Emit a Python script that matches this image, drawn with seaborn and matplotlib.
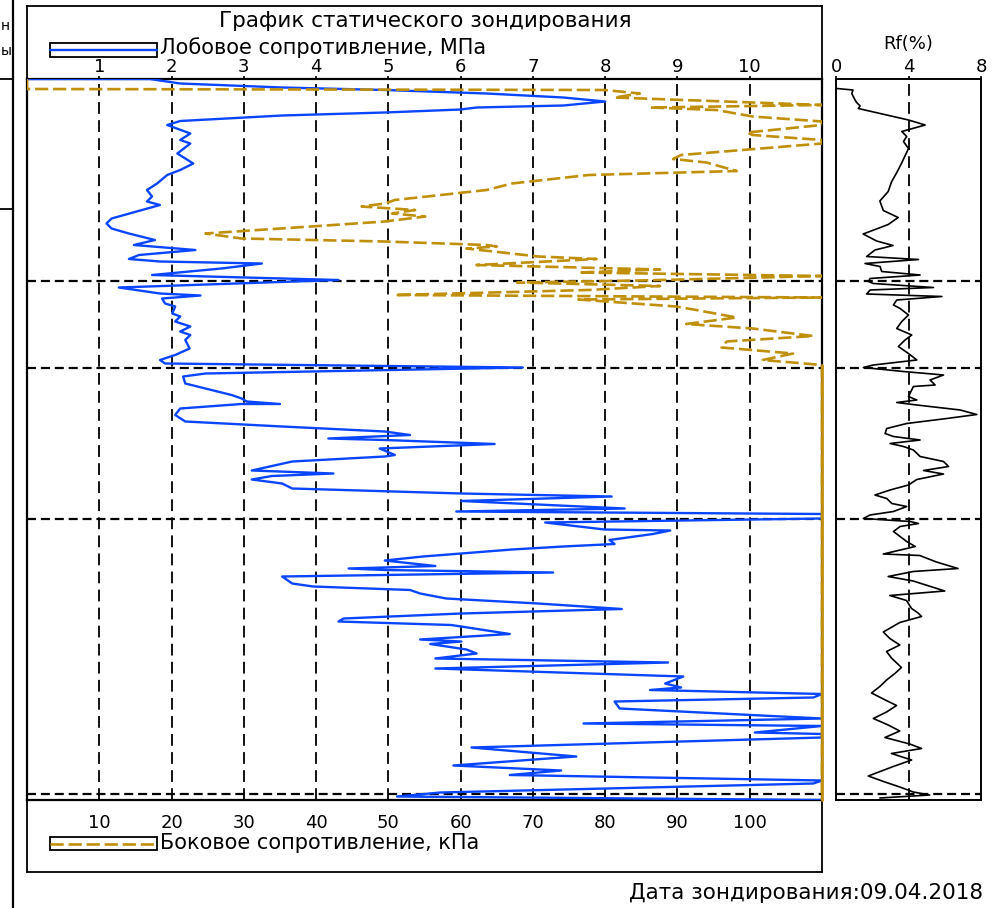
import matplotlib
matplotlib.use("Agg")
import matplotlib.pyplot as plt
from matplotlib.patches import Rectangle
from matplotlib.lines import Line2D
import pandas as pd
import seaborn as sns

# === Data ===
# cone (tip) resistance, MPa
qc_depth = [0.00, 0.00, 0.09, 0.17, 0.22, 0.29, 0.37, 0.45, 0.53, 0.57, 0.61, 0.67, 0.73, 0.84, 0.92,
            1.09, 1.22, 1.29, 1.49, 1.69, 1.82, 1.92, 2.09, 2.22, 2.35, 2.45, 2.52, 2.65, 2.79, 2.89,
            2.99, 3.09, 3.22, 3.32, 3.35, 3.42, 3.52, 3.60, 3.65, 3.69, 3.79, 3.92, 4.02, 4.17, 4.29,
            4.33, 4.39, 4.49, 4.55, 4.69, 4.75, 4.85, 4.95, 5.05, 5.12, 5.22, 5.39, 5.52, 5.62, 5.69,
            5.77, 5.89, 5.95, 6.09, 6.19, 6.32, 6.39, 6.45, 6.50, 6.50, 6.59, 6.72, 6.85, 6.95, 7.05,
            7.12, 7.19, 7.22, 7.30, 7.39, 7.52, 7.55, 7.65, 7.83, 7.89, 7.94, 8.01, 8.09, 8.19, 8.29,
            8.35, 8.44, 8.59, 8.65, 8.70, 8.79, 8.87, 9.01, 9.03, 9.10, 9.22, 9.30, 9.35, 9.41, 9.49,
            9.55, 9.63, 9.74, 9.79, 9.82, 9.87, 9.95, 10.09, 10.15, 10.22, 10.29, 10.39, 10.49, 10.60,
            10.69, 10.79, 10.85, 10.92, 11.10, 11.21, 11.25, 11.30, 11.41, 11.49, 11.59, 11.67, 11.79,
            11.95, 12.09, 12.17, 12.22, 12.30, 12.37, 12.45, 12.59, 12.79, 12.89, 12.94, 13.07, 13.10,
            13.17, 13.37, 13.55, 13.59, 13.73, 13.83, 13.92, 14.03, 14.09, 14.27, 14.35, 14.42]
qc_mpa = [0.00, 1.70, 2.12, 3.53, 4.95, 6.36, 7.42, 8.00, 7.42, 6.22, 6.00, 4.95, 3.53, 2.12, 1.94,
          2.26, 2.12, 2.26, 2.08, 2.30, 2.12, 1.94, 1.80, 1.66, 1.73, 1.66, 1.84, 1.52, 1.17, 1.10,
          1.17, 1.41, 1.77, 1.48, 1.73, 2.33, 1.55, 1.41, 1.84, 3.25, 2.69, 1.73, 4.31, 1.27, 1.84,
          2.40, 1.87, 1.91, 2.05, 2.01, 2.12, 2.05, 2.26, 2.12, 2.26, 2.19, 2.25, 2.05, 1.84, 1.91,
          6.86, 2.47, 2.16, 2.19, 2.47, 2.83, 2.97, 3.04, 3.50, 2.97, 2.12, 2.05, 2.19, 3.53, 4.95,
          5.30, 4.17, 4.95, 6.47, 4.88, 5.09, 4.95, 3.67, 3.11, 4.24, 3.39, 3.11, 3.53, 3.67, 6.01,
          8.09, 6.01, 8.27, 5.94, 11.0, 11.0, 7.17, 7.99, 8.90, 8.66, 8.06, 8.13, 7.42, 6.71, 6.01,
          5.48, 4.95, 5.65, 4.45, 4.95, 7.28, 3.53, 3.67, 3.96, 5.30, 5.44, 5.80, 7.07, 8.23,
          6.01, 4.38, 4.31, 5.87, 6.68, 5.44, 6.01, 5.58, 6.08, 6.22, 5.65, 8.87, 5.65,
          9.08, 8.83, 9.05, 8.62, 11.0, 10.88, 8.13, 8.20, 11.0, 7.70, 11.0, 10.07, 11.0,
          11.0, 6.15, 7.60, 7.21, 5.90, 7.39, 6.68, 11.0, 10.88, 5.72, 5.12, 11.0]

# sleeve friction, kPa
fs_depth = [0.00, 0.20, 0.22, 0.29, 0.37, 0.52, 0.57, 0.62, 0.75, 0.85, 0.92, 1.07, 1.12, 1.22, 1.29,
            1.52, 1.60, 1.67, 1.84, 1.92, 2.09, 2.22, 2.42, 2.49, 2.55, 2.62, 2.69, 2.75, 2.85, 2.92,
            3.09, 3.19, 3.25, 3.32, 3.35, 3.39, 3.55, 3.60, 3.72, 3.81, 3.87, 3.94, 4.03, 4.07, 4.14,
            4.22, 4.32, 4.37, 4.41, 4.55, 4.62, 4.77, 4.90, 4.99, 5.14, 5.25, 5.37, 5.49, 5.62, 5.72,
            14.42]
fs_kpa = [0.0, 0.0, 79.9, 84.8, 81.3, 110.0, 86.2, 95.4, 100.4, 110.0, 110.0, 99.6, 100.4, 110.0, 110.0,
          90.5, 89.4, 94.0, 98.2, 77.7, 67.1, 63.6, 50.9, 49.5, 46.3, 53.7, 50.5, 55.1, 49.5, 42.4,
          24.7, 29.7, 49.5, 63.6, 65.0, 60.8, 70.7, 78.8, 62.2, 87.6, 76.3, 110.0, 84.8, 67.8, 87.6,
          77.7, 50.9, 110.0, 76.3, 89.8, 92.6, 98.2, 91.2, 100.4, 108.8, 96.8, 96.1, 106.0, 101.8, 110.0,
          110.0]

# friction ratio, %
rf_depth = [0.19, 0.22, 0.29, 0.42, 0.47, 0.54, 0.59, 0.72, 0.82, 0.92, 1.05, 1.15, 1.25, 1.39, 1.69,
            1.88, 2.06, 2.25, 2.44, 2.63, 2.77, 2.91, 3.10, 3.24, 3.33, 3.42, 3.55, 3.61, 3.69, 3.75,
            3.85, 3.92, 3.99, 4.05, 4.09, 4.17, 4.22, 4.30, 4.35, 4.42, 4.52, 4.59, 4.72, 4.85, 4.99,
            5.12, 5.22, 5.35, 5.49, 5.62, 5.72, 5.77, 5.85, 5.92, 6.02, 6.12, 6.15, 6.35, 6.42, 6.47,
            6.52, 6.62, 6.71, 6.79, 6.89, 6.99, 7.09, 7.15, 7.22, 7.29, 7.35, 7.42, 7.55, 7.65, 7.75,
            7.83, 7.90, 8.01, 8.12, 8.22, 8.32, 8.39, 8.49, 8.55, 8.65, 8.72, 8.79, 8.85, 8.89, 8.95,
            9.05, 9.15, 9.25, 9.35, 9.50, 9.53, 9.66, 9.79, 9.85, 9.95, 10.04, 10.24, 10.33, 10.43,
            10.59, 10.68, 10.75, 10.87, 11.06, 11.19, 11.32, 11.45, 11.58, 11.77, 11.89, 12.02, 12.15,
            12.28, 12.40, 12.53, 12.66, 12.79, 12.92, 13.04, 13.17, 13.30, 13.39, 13.49, 13.62, 13.75,
            13.94, 14.06, 14.16, 14.26, 14.32, 14.38]
rf_pct = [0.04, 0.94, 0.87, 1.05, 1.14, 1.33, 1.23, 2.80, 4.00, 4.92, 3.63, 3.90, 3.72, 4.00, 3.61,
          3.34, 3.06, 2.88, 2.42, 2.61, 3.43, 2.88, 1.50, 2.24, 3.15, 2.15, 1.69, 4.55, 1.60, 2.43,
          2.52, 4.64, 1.88, 1.79, 2.06, 5.38, 1.88, 1.69, 5.84, 3.35, 3.17, 3.54, 4.00, 3.63, 3.35,
          4.18, 3.81, 3.44, 4.00, 4.46, 2.06, 1.51, 3.72, 5.93, 5.19, 5.47, 4.27, 4.00, 4.46, 3.35,
          4.46, 6.85, 7.77, 6.11, 3.90, 2.80, 2.71, 3.17, 4.64, 2.98, 3.72, 4.27, 4.64, 5.93, 6.21,
          4.83, 5.93, 4.46, 4.00, 2.98, 2.15, 2.80, 3.08, 3.90, 3.17, 1.88, 1.51, 4.09, 4.55, 3.54,
          3.17, 3.54, 3.90, 4.37, 2.61, 4.62, 5.54, 6.73, 4.26, 2.88, 4.26, 6.00, 2.97, 3.89,
          4.17, 4.53, 4.72, 3.52, 2.61, 2.97, 3.52, 2.79, 3.06, 3.61, 3.25, 2.79, 2.42,
          1.96, 2.61, 3.34, 2.79, 2.06, 2.88, 3.52, 2.70, 4.07, 4.72, 3.06, 4.17, 3.16,
          1.78, 2.70, 3.52, 4.26, 5.17, 2.42]

layer_bounds = [4.04, 5.78, 8.80, 14.30]
depth_max = 14.42
qc_ticks = [1, 2, 3, 4, 5, 6, 7, 8, 9, 10]
fs_ticks = [10, 20, 30, 40, 50, 60, 70, 80, 90, 100]
rf_ticks = [0, 4, 8]

BLUE = "#0A46FF"
GOLD = "#C0900C"

W, H = 998, 908


def rect(x0, y0, x1, y1):
    # pixel box -> figure fraction [left, bottom, width, height]
    return [x0 / W, 1 - y1 / H, (x1 - x0) / W, (y1 - y0) / H]


def fp(x, y):
    return x / W, 1 - y / H


sns.set_style("white")
plt.rcParams["font.family"] = ["DejaVu Sans"]
plt.rcParams["lines.scale_dashes"] = False
plt.rcParams["text.color"] = "black"

fig = plt.figure(figsize=(W / 100, H / 100), dpi=100)

# === outer frame ===
frame = fig.add_axes(rect(27, 6, 822, 872))
frame.set_xticks([])
frame.set_yticks([])
frame.patch.set_alpha(0)
for s in frame.spines.values():
    s.set_color("black")
    s.set_linewidth(1.3)

# === main panel: qc (top axis) ===
ax = fig.add_axes(rect(27, 79, 822, 800))
ax.patch.set_alpha(0)
qc_df = pd.DataFrame({"depth": qc_depth, "qc": qc_mpa})
for v in qc_ticks:
    ax.axvline(v, color="black", lw=1.3, ls=(0, (8.5, 4.5)), zorder=1)
sns.lineplot(data=qc_df, x="qc", y="depth", sort=False, estimator=None,
             color=BLUE, lw=1.7, ax=ax, zorder=4)
for d in layer_bounds:
    ax.axhline(d, color="black", lw=1.6, ls=(0, (6.5, 3.5)), zorder=2)

# === sleeve friction on twin axis (bottom) ===
ax2 = ax.twiny()
fs_df = pd.DataFrame({"depth": fs_depth, "fs": fs_kpa})
sns.lineplot(data=fs_df, x="fs", y="depth", sort=False, estimator=None,
             color=GOLD, lw=1.9, ls=(0, (9.5, 3.5)), ax=ax2, zorder=3)
tail = fs_df[fs_df["depth"] >= 5.72]
sns.lineplot(data=tail, x="fs", y="depth", sort=False, estimator=None,
             color=GOLD, lw=2.0, ax=ax2, zorder=3, clip_on=False)
ax2.set_xlim(0, 110)
ax2.set_ylim(depth_max, 0)
ax2.set_xlabel("")
ax2.set_ylabel("")
ax2.xaxis.tick_bottom()
ax2.set_xticks(fs_ticks)
ax2.set_xticklabels([str(v) for v in fs_ticks])
ax2.tick_params(axis="x", length=0, pad=10, labelsize=13, colors="black")
for s in ax2.spines.values():
    s.set_visible(False)

# qc axis on top (set after twiny, which moves ticks to the bottom)
ax.set_xlim(0, 11)
ax.set_ylim(depth_max, 0)
ax.set_xlabel("")
ax.set_ylabel("")
ax.set_yticks([])
ax.xaxis.tick_top()
ax.set_xticks(qc_ticks)
ax.set_xticklabels([str(v) for v in qc_ticks])
ax.tick_params(axis="x", direction="out", length=2, width=1.2, pad=0, labelsize=13, colors="black")
for s in ax.spines.values():
    s.set_color("black")
    s.set_linewidth(1.6)

# === Rf panel ===
rf = fig.add_axes(rect(836, 79, 981, 800))
rf.patch.set_alpha(0)
rf_df = pd.DataFrame({"depth": rf_depth, "rf": rf_pct})
rf.axvline(4, color="black", lw=1.3, ls=(0, (8.5, 4.5)), zorder=1)
for d in layer_bounds:
    rf.axhline(d, color="black", lw=1.6, ls=(0, (6.5, 3.5)), zorder=2)
sns.lineplot(data=rf_df, x="rf", y="depth", sort=False, estimator=None,
             color="black", lw=1.2, ax=rf, zorder=3)
rf.set_xlim(0, 8)
rf.set_ylim(depth_max, 0)
rf.set_xlabel("")
rf.set_ylabel("")
rf.set_yticks([])
rf.xaxis.tick_top()
rf.set_xticks(rf_ticks)
rf.set_xticklabels([str(v) for v in rf_ticks])
rf.tick_params(axis="x", direction="out", length=2, width=1.2, pad=0, labelsize=13, colors="black")
for s in rf.spines.values():
    s.set_color("black")
    s.set_linewidth(1.4)

# === texts and legend boxes ===
fig.text(*fp(425, 21), "График статического зондирования", ha="center", va="center", fontsize=15.5)

fig.add_artist(Rectangle(fp(50, 57), 107 / W, 14 / H, transform=fig.transFigure,
                         fill=False, ec="black", lw=1.3))
fig.add_artist(Line2D([50 / W, 157 / W], [1 - 50 / H, 1 - 50 / H], transform=fig.transFigure,
                      color=BLUE, lw=1.7))
fig.text(*fp(160, 48), "Лобовое сопротивление, МПа", ha="left", va="center", fontsize=15)

fig.add_artist(Rectangle(fp(50, 850), 107 / W, 13 / H, transform=fig.transFigure,
                         fill=False, ec="black", lw=1.3))
fig.add_artist(Line2D([50 / W, 157 / W], [1 - 843.5 / H, 1 - 843.5 / H], transform=fig.transFigure,
                      color=GOLD, lw=1.9, ls=(0, (9.5, 3.5))))
fig.text(*fp(160, 843), "Боковое сопротивление, кПа", ha="left", va="center", fontsize=15)

fig.text(*fp(908, 44), "Rf(%)", ha="center", va="center", fontsize=13)
fig.text(*fp(983, 893), "Дата зондирования:09.04.2018", ha="right", va="center", fontsize=15.5)

# cut-off table at the left edge
fig.add_artist(Line2D([12.5 / W, 12.5 / W], [0, 1], transform=fig.transFigure, color="black", lw=1.6))
for yy in (79, 209):
    fig.add_artist(Line2D([0, 12.5 / W], [1 - yy / H, 1 - yy / H], transform=fig.transFigure,
                          color="black", lw=1.3))
fig.text(*fp(1, 26), "н", ha="left", va="center", fontsize=10)
fig.text(*fp(1, 51), "ы", ha="left", va="center", fontsize=10)

fig.savefig("out.png", dpi=100)
